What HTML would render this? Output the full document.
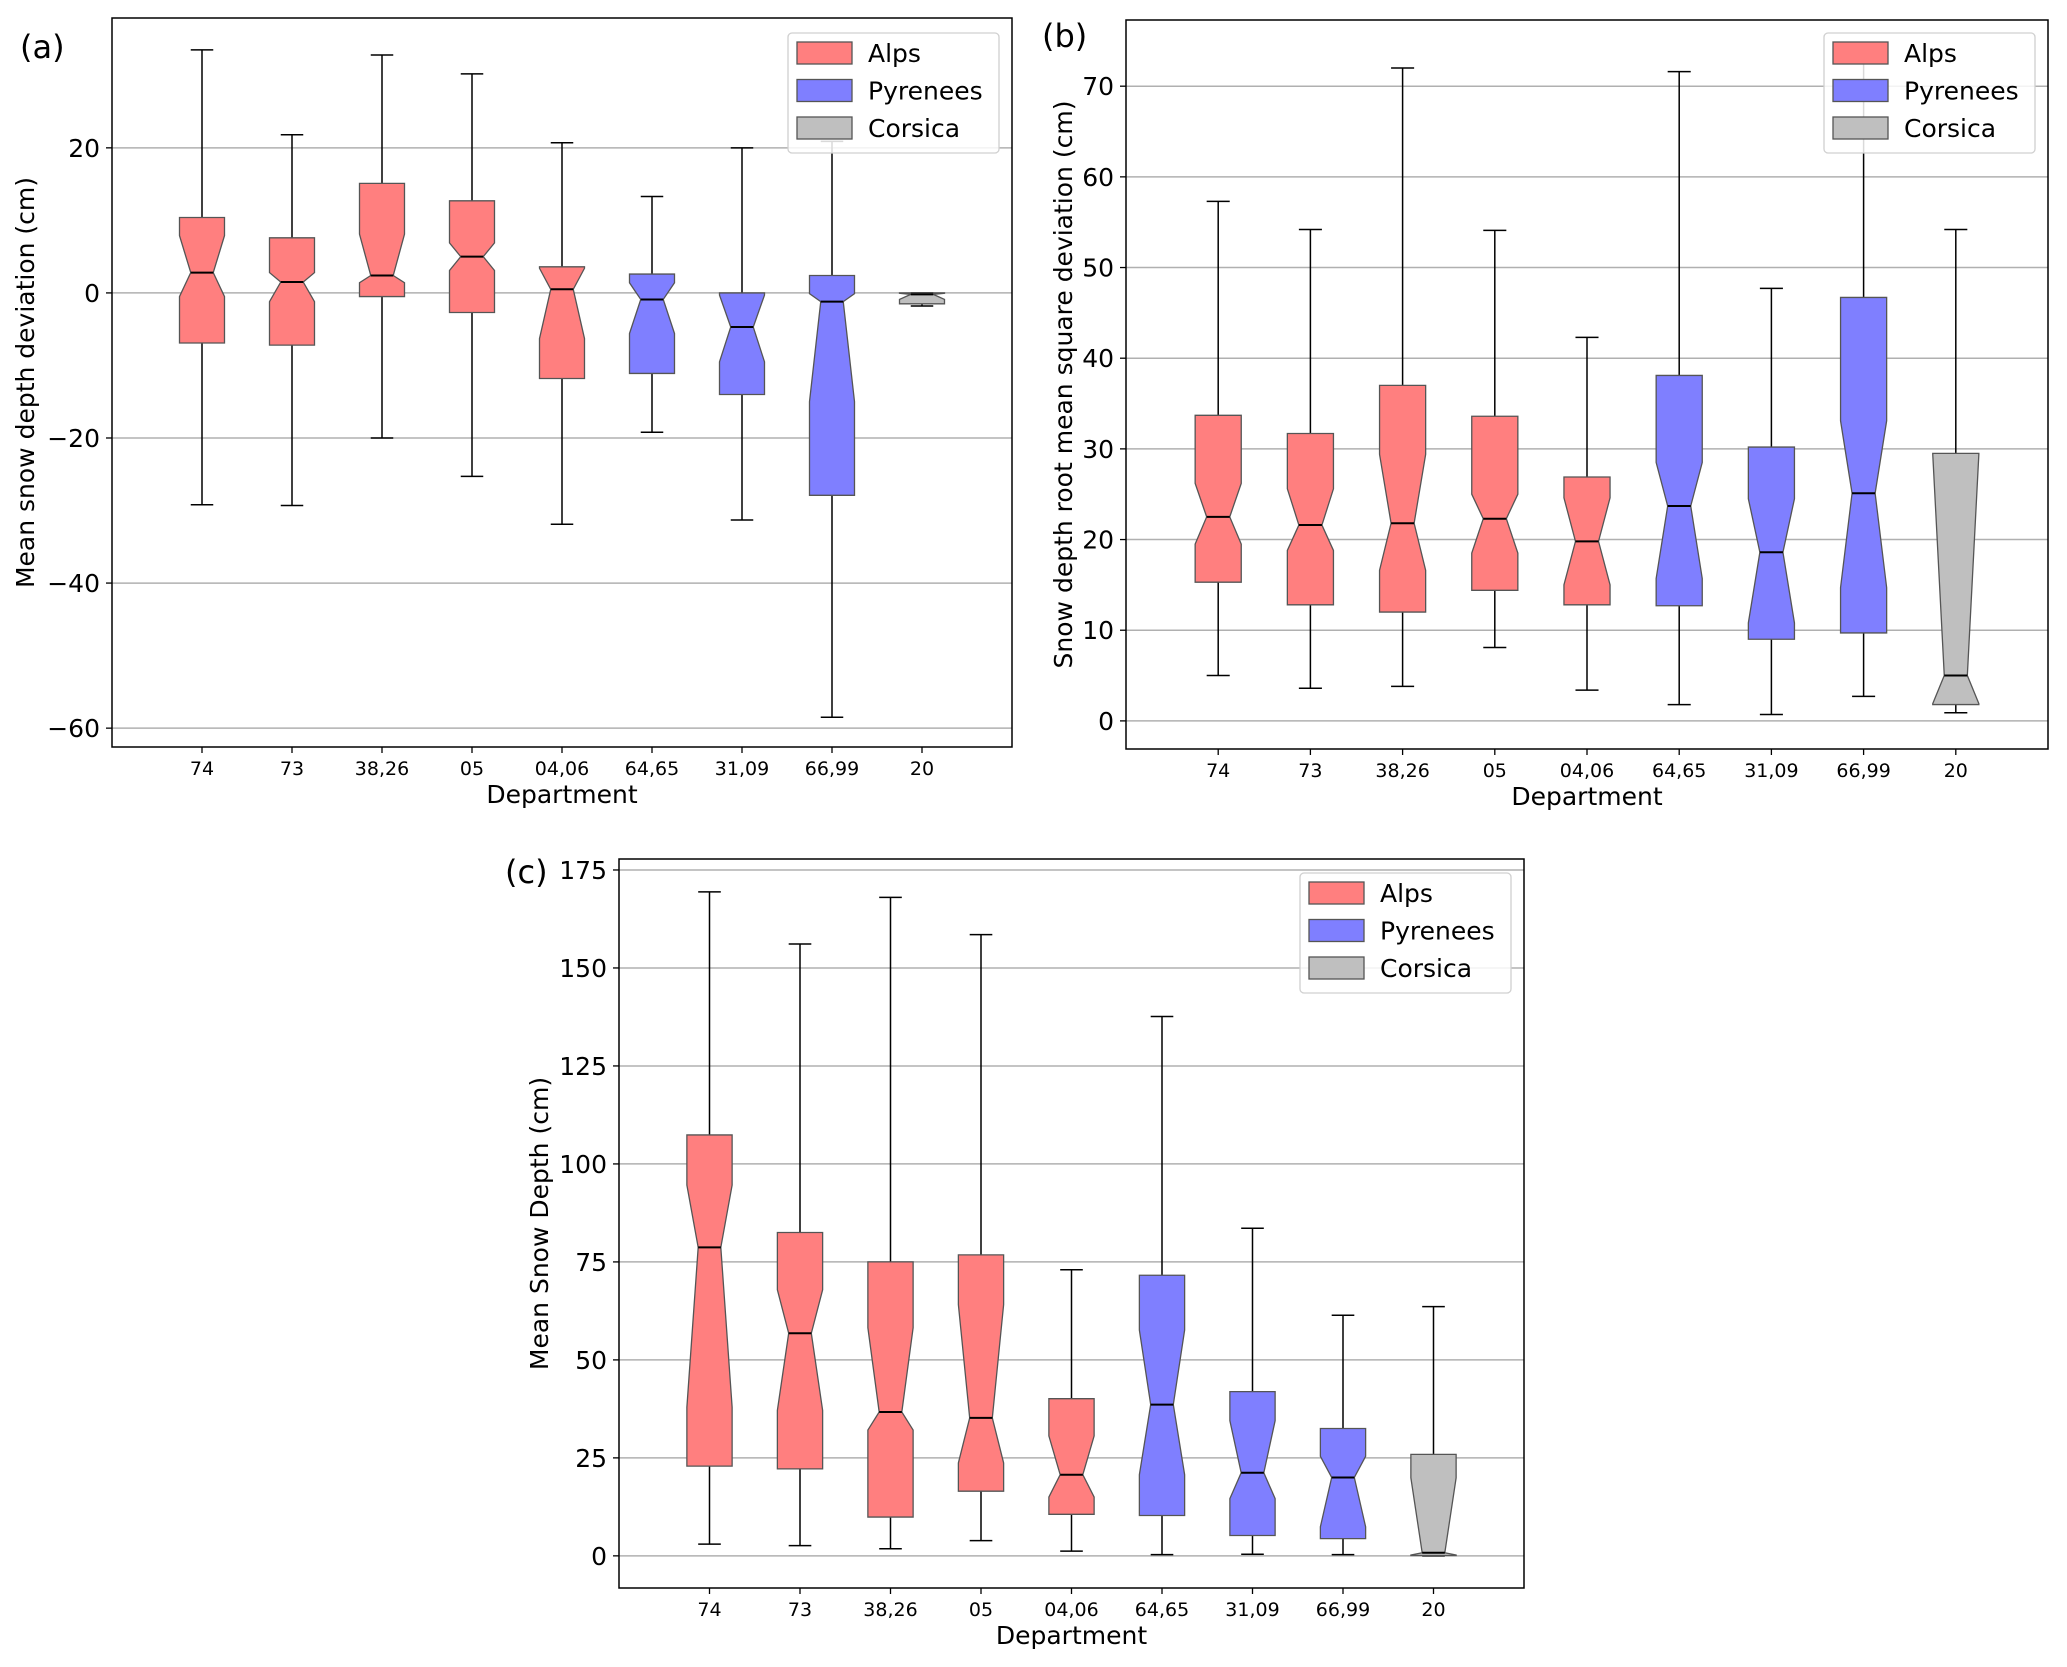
<!DOCTYPE html>
<html><head><meta charset="utf-8"><style>
html,body{margin:0;padding:0;background:#fff}
svg{display:block;font-family:"DejaVu Sans","Liberation Sans",sans-serif}
</style></head><body>
<svg id="fig" width="2067" height="1667" viewBox="0 0 2067 1667" xmlns="http://www.w3.org/2000/svg"></svg>
<script>
const categories = ["74","73","38,26","05","04,06","64,65","31,09","66,99","20"];
const regions = ["Alps","Alps","Alps","Alps","Alps","Pyrenees","Pyrenees","Pyrenees","Corsica"];
// panel a
const aWhiskerHi = [33.5,21.8,32.8,30.2,20.7,13.3,20,20.9,0];
const aQ3 = [10.4,7.6,15.1,12.7,3.6,2.6,0,2.4,0];
const aNotchHi = [7.9,2.8,8.1,6.9,3.4,1.4,-0.3,-0.1,-0.05];
const aMedian = [2.8,1.5,2.4,5.0,0.5,-0.9,-4.7,-1.2,-0.2];
const aNotchLo = [-0.5,-1.2,1.4,3.1,-6.3,-5.6,-9.5,-15,-0.9];
const aQ1 = [-6.9,-7.2,-0.5,-2.7,-11.8,-11.1,-14,-27.9,-1.5];
const aWhiskerLo = [-29.2,-29.3,-20,-25.3,-31.9,-19.2,-31.3,-58.5,-1.8];
const aTicks = [-60,-40,-20,0,20];
// panel b
const bWhiskerHi = [57.3,54.2,72,54.1,42.3,71.6,47.7,73.7,54.2];
const bQ3 = [33.7,31.7,37.0,33.6,26.9,38.1,30.2,46.7,29.5];
const bNotchHi = [26.2,25.6,29.4,25.0,24.6,28.5,24.5,33.1,29.4];
const bMedian = [22.5,21.6,21.8,22.3,19.8,23.7,18.6,25.1,5.0];
const bNotchLo = [19.5,18.8,16.6,18.5,15.0,15.7,10.8,14.7,1.9];
const bQ1 = [15.3,12.8,12,14.4,12.8,12.7,9.0,9.7,1.8];
const bWhiskerLo = [5.0,3.6,3.8,8.1,3.4,1.8,0.7,2.7,0.9];
const bTicks = [0,10,20,30,40,50,60,70];
// panel c
const cWhiskerHi = [169.4,156.1,168,158.5,73,137.6,83.6,61.4,63.6];
const cQ3 = [107.4,82.5,75,76.8,40.1,71.6,41.9,32.5,25.9];
const cNotchHi = [94.6,67.9,58.2,64.1,30.6,57.6,34.5,25.4,19.9];
const cMedian = [78.7,56.8,36.7,35.2,20.7,38.6,21.2,20,0.8];
const cNotchLo = [37.9,37.1,32.1,23.7,15.0,20.7,14.6,7.4,0.2];
const cQ1 = [22.9,22.2,9.9,16.5,10.6,10.3,5.2,4.4,0.1];
const cWhiskerLo = [3.0,2.6,1.8,3.9,1.2,0.3,0.4,0.3,0.0];
const cTicks = [0,25,50,75,100,125,150,175];

const NS="http://www.w3.org/2000/svg";
const svg=document.getElementById('fig');
const fills={Alps:"#ff7f7f",Pyrenees:"#7f7fff",Corsica:"#bfbfbf"};
function mk(tag,attrs,parent){const e=document.createElementNS(NS,tag);for(const k in attrs)e.setAttribute(k,attrs[k]);(parent||svg).appendChild(e);return e;}

function panel(p,data){
  const g=mk('g',{});
  
  
  const X=i=>p.l+(i+1)*(p.r-p.l)/10;
  const Y=v=>p.t+(p.ymax-v)/(p.ymax-p.ymin)*(p.b-p.t);
  const bw=(p.r-p.l)/10*0.5;
  data.ticks.forEach(v=>{
    const y=Y(v);
    const gl=mk('line',{x1:p.l,x2:p.r,y1:y,y2:y,stroke:"#b0b0b0","stroke-width":1.5},g);
    
    
    mk('line',{x1:p.l-6,x2:p.l,y1:y,y2:y,stroke:"#000","stroke-width":1.3},g);
    const t=mk('text',{x:p.l-12,y:y+9,"text-anchor":"end","font-size":25},g);
    t.textContent=(v<0?"\u2212"+Math.abs(v):v);
    
    
  });
  categories.forEach((c,i)=>{
    const x=X(i),h=bw/2,n=bw/4;
    const bg=mk('g',{},g);
    
    
    const q1=Y(data.q1[i]),q3=Y(data.q3[i]),nl=Y(data.nlo[i]),nh=Y(data.nhi[i]),md=Y(data.med[i]);
    const wl=Y(data.wlo[i]),wh=Y(data.whi[i]);
    mk('line',{x1:x,x2:x,y1:q3,y2:wh,stroke:"#000","stroke-width":1.5},bg);
    mk('line',{x1:x,x2:x,y1:q1,y2:wl,stroke:"#000","stroke-width":1.5},bg);
    mk('line',{x1:x-n,x2:x+n,y1:wh,y2:wh,stroke:"#000","stroke-width":1.5},bg);
    mk('line',{x1:x-n,x2:x+n,y1:wl,y2:wl,stroke:"#000","stroke-width":1.5},bg);
    const pts=[[x-h,q1],[x-h,nl],[x-n,md],[x-h,nh],[x-h,q3],[x+h,q3],[x+h,nh],[x+n,md],[x+h,nl],[x+h,q1]];
    mk('polygon',{points:pts.map(q=>q.join(',')).join(' '),fill:fills[regions[i]],stroke:"#555","stroke-width":1.3},bg);
    mk('line',{x1:x-n,x2:x+n,y1:md,y2:md,stroke:"#000","stroke-width":2},bg);
    mk('line',{x1:x,x2:x,y1:p.b,y2:p.b+6,stroke:"#000","stroke-width":1.3},g);
    const t=mk('text',{x:x,y:p.b+28,"text-anchor":"middle","font-size":19},g);
    t.textContent=c;
    
    
  });
  const fr=mk('rect',{x:p.l,y:p.t,width:p.r-p.l,height:p.b-p.t,fill:"none",stroke:"#000","stroke-width":1.5},g);
  
  
  const xl=mk('text',{x:(p.l+p.r)/2,y:p.b+56,"text-anchor":"middle","font-size":25},g);
  xl.textContent="Department";
  
  
  const yc=(p.t+p.b)/2;
  const yl=mk('text',{x:p.ylx,y:yc,"text-anchor":"middle","font-size":25,transform:`rotate(-90 ${p.ylx} ${yc})`},g);
  yl.textContent=p.ylabel;
  
  
  const pl=mk('text',{x:p.lx,y:p.ly,"font-size":32},g);
  pl.textContent=p.tag;
  
  
  const lg=mk('g',{},g);
  
  
  mk('rect',{x:p.lgx,y:p.lgy,width:211,height:120,rx:4,fill:"#fff","fill-opacity":0.85,stroke:"#d0d0d0","stroke-width":1.3},lg);
  ["Alps","Pyrenees","Corsica"].forEach((r,k)=>{
    const yy=p.lgy+20+k*37.5;
    const e=mk('g',{},lg);
    
    
    mk('rect',{x:p.lgx+9,y:yy-11,width:55,height:22,fill:fills[r],stroke:"#555","stroke-width":1.3},e);
    const t=mk('text',{x:p.lgx+80,y:yy+9,"font-size":25},e);
    t.textContent=r;
  });
}
panel({name:'panel-a',tag:'(a)',l:112,r:1012,t:18,b:747,ymin:-62.6,ymax:37.9,ylabel:'Mean snow depth deviation (cm)',ylx:34,lx:20,ly:58,lgx:788,lgy:33},
 {ticks:aTicks,whi:aWhiskerHi,q3:aQ3,nhi:aNotchHi,med:aMedian,nlo:aNotchLo,q1:aQ1,wlo:aWhiskerLo});
panel({name:'panel-b',tag:'(b)',l:1126,r:2048,t:20,b:749,ymin:-3.1,ymax:77.3,ylabel:'Snow depth root mean square deviation (cm)',ylx:1072,lx:1042,ly:47,lgx:1824,lgy:33},
 {ticks:bTicks,whi:bWhiskerHi,q3:bQ3,nhi:bNotchHi,med:bMedian,nlo:bNotchLo,q1:bQ1,wlo:bWhiskerLo});
panel({name:'panel-c',tag:'(c)',l:619,r:1524,t:859,b:1588,ymin:-8.2,ymax:177.8,ylabel:'Mean Snow Depth (cm)',ylx:548,lx:505,ly:883,lgx:1300,lgy:873},
 {ticks:cTicks,whi:cWhiskerHi,q3:cQ3,nhi:cNotchHi,med:cMedian,nlo:cNotchLo,q1:cQ1,wlo:cWhiskerLo});
</script>
</body></html>
